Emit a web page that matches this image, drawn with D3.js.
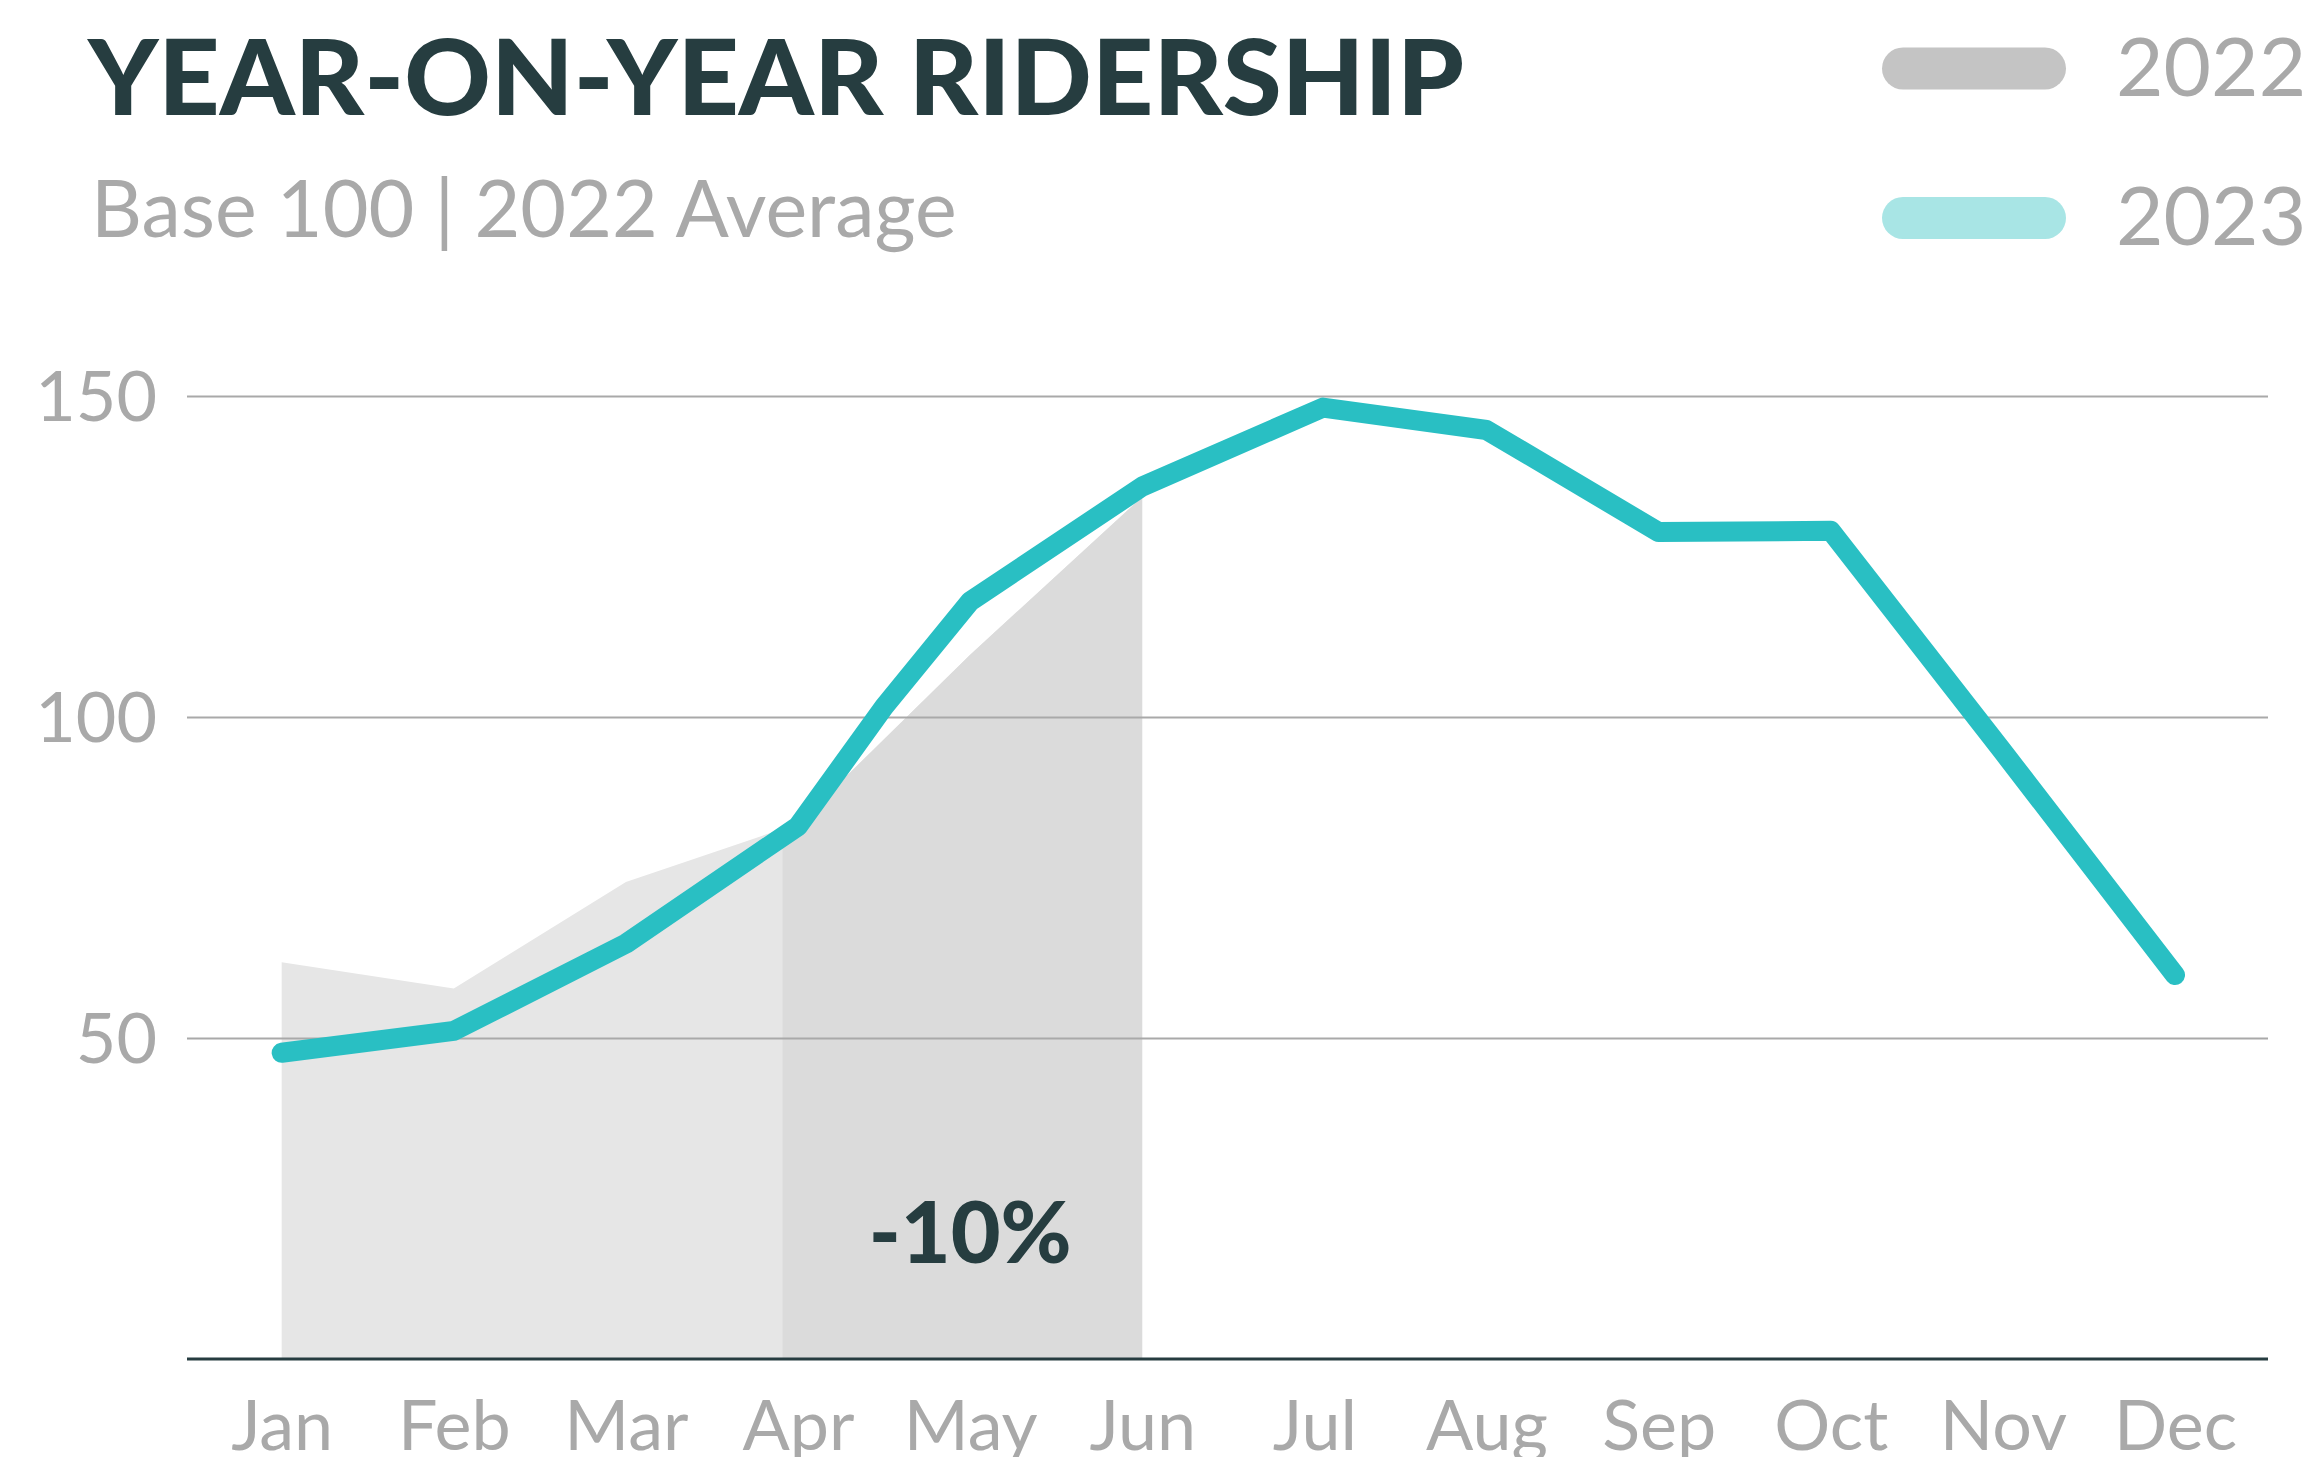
<!DOCTYPE html>
<html>
<head>
<meta charset="utf-8">
<script src="https://cdn.jsdelivr.net/npm/d3@7"></script>
<style>
  html, body { margin: 0; padding: 0; background: #fff; }
  svg { display: block; font-family: Lato, "Open Sans", sans-serif; }
</style>
</head>
<body>
<script>
// months on the x axis
var months = ['Jan', 'Feb', 'Mar', 'Apr', 'May', 'Jun', 'Jul', 'Aug', 'Sep', 'Oct', 'Nov', 'Dec']

// 2022 ridership (only Jan-Jun shown as area), base 100 = 2022 average
var months2022 = [0, 1, 2, 3, 4, 5],
    values2022 = [61.8, 57.7, 74.3, 83.4, 109.7, 134.3]

// 2023 ridership, position in months (one mid-month reading in April)
var months2023 = [0, 1, 2, 3, 3.5, 4, 5, 6.05, 7, 8, 9, 10, 11],
    values2023 = [47.7, 51.1, 64.7, 83.0, 101.6, 118.0, 135.9, 148.2, 144.7, 128.8, 129.0, 94.6, 59.8]

// highlighted comparison window and its label
var highlightRange = [2.91, 5],
    highlightLabel = '-10%',
    highlightLabelAt = [4, 15]

var yTicks = [50, 100, 150],
    legendItems = [{ label: '2022', color: '#c4c4c4' }, { label: '2023', color: '#a8e5e5' }],
    title = 'YEAR-ON-YEAR RIDERSHIP',
    subtitle = 'Base 100 | 2022 Average'

var width = 2314, height = 1457,
    plot = { left: 187, right: 2268, top: 396, bottom: 1359 },
    colors = { line: '#29bfc3', area: '#e6e6e6', areaDark: '#dbdbdb', grid: '#a9a9a9', axis: '#263c40', text: '#263d40', muted: '#a9a9a9' }

var svg = d3.select('body').append('svg')
    .attr('width', width)
    .attr('height', height)

var x = d3.scaleLinear().domain([-0.55, 11.54]).range([plot.left, plot.right]),
    y = d3.scaleLinear().domain([0, 150]).range([plot.bottom, plot.top])

var data2022 = months2022.map((m, i) => ({ m: m, v: values2022[i] })),
    data2023 = months2023.map((m, i) => ({ m: m, v: values2023[i] }))

// areas for 2022
var area = d3.area().x(d => x(d.m)).y0(y(0)).y1(d => y(d.v))

svg.append('path')
    .attr('d', area(data2022))
    .attr('fill', colors.area)

svg.append('clipPath').attr('id', 'highlight')
    .append('rect')
    .attr('x', x(highlightRange[0]))
    .attr('width', x(highlightRange[1]) - x(highlightRange[0]))
    .attr('y', 0)
    .attr('height', height)

svg.append('path')
    .attr('d', area(data2022))
    .attr('fill', colors.areaDark)
    .attr('clip-path', 'url(#highlight)')

// y axis with gridlines
var yAxis = svg.append('g')
    .attr('transform', 'translate(' + plot.left + ',0)')
    .call(d3.axisLeft(y).tickValues(yTicks).tickSize(-(plot.right - plot.left)).tickPadding(30))

yAxis.select('.domain').remove()
yAxis.selectAll('line').attr('stroke', colors.grid).attr('stroke-width', 2)
yAxis.selectAll('text')
    .attr('fill', colors.muted)
    .attr('font-size', 70)
    .attr('dy', '0.35em')
    .style('font-family', 'Lato')

// x axis
var xAxis = svg.append('g')
    .attr('transform', 'translate(0,' + y(0) + ')')
    .call(d3.axisBottom(x).tickValues(d3.range(months.length)).tickFormat(i => months[i]).tickSize(0).tickPadding(41))

xAxis.select('.domain').remove()
xAxis.selectAll('text')
    .attr('fill', colors.muted)
    .attr('font-size', 70)
    .style('font-family', 'Lato')

svg.append('line')
    .attr('x1', plot.left).attr('x2', plot.right)
    .attr('y1', y(0)).attr('y2', y(0))
    .attr('stroke', colors.axis)
    .attr('stroke-width', 3)

// 2023 line
var line = d3.line().x(d => x(d.m)).y(d => y(d.v))

svg.append('path')
    .attr('d', line(data2023))
    .attr('fill', 'none')
    .attr('stroke', colors.line)
    .attr('stroke-width', 20)
    .attr('stroke-linecap', 'round')
    .attr('stroke-linejoin', 'round')

// annotation
svg.append('text')
    .attr('x', x(highlightLabelAt[0]))
    .attr('y', y(highlightLabelAt[1]))
    .attr('text-anchor', 'middle')
    .attr('fill', colors.text)
    .attr('font-size', 86)
    .attr('font-weight', 900)
    .text(highlightLabel)

// titles
svg.append('text')
    .attr('x', 88)
    .attr('y', 115)
    .attr('fill', colors.text)
    .attr('font-size', 105)
    .attr('font-weight', 900)
    .attr('textLength', 1376)
    .attr('lengthAdjust', 'spacingAndGlyphs')
    .text(title)

svg.append('text')
    .attr('x', 91)
    .attr('y', 237)
    .attr('fill', colors.muted)
    .attr('font-size', 79)
    .text(subtitle)

// legend
var legend = svg.append('g')
    .selectAll('g')
    .data(legendItems)
    .join('g')
    .attr('transform', (d, i) => 'translate(1882,' + (68.5 + i * 149.5) + ')')

legend.append('rect')
    .attr('x', 0).attr('y', -21)
    .attr('width', 184).attr('height', 42)
    .attr('rx', 21)
    .attr('fill', d => d.color)

legend.append('text')
    .attr('x', 234)
    .attr('y', 27)
    .attr('fill', colors.muted)
    .attr('font-size', 82)
    .text(d => d.label)
</script>
</body>
</html>
